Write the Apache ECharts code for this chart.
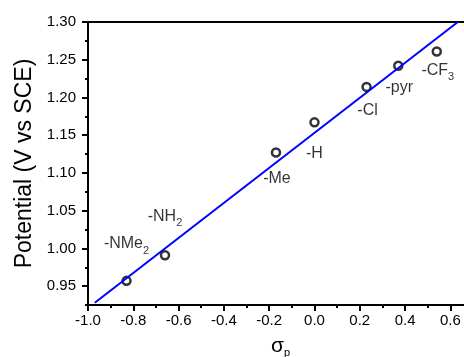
<!DOCTYPE html>
<html>
<head>
<meta charset="utf-8">
<script src="https://cdn.jsdelivr.net/npm/echarts@6/dist/echarts.min.js"></script>
<style>
  html, body { margin: 0; padding: 0; background: #ffffff; }
  #chart { width: 464px; height: 357px; }
</style>
</head>
<body>
<div id="chart"></div>
<script>
// Hammett substituent constants vs. oxidation potential
const substituents = ['-NMe', '-NH', '-Me', '-H', '-Cl', '-pyr', '-CF'];
const subscripts = ['2', '2', '', '', '', '', '3'];
const sigmaP = [-0.83, -0.66, -0.17, 0.0, 0.23, 0.37, 0.54];
const potential = [0.957, 0.991, 1.127, 1.167, 1.214, 1.242, 1.261];

// linear fit, read at its two visible ends
const fitX = [-0.97, 0.633];
const fitY = [0.928, 1.30];

const xMajor = [-1.0, -0.8, -0.6, -0.4, -0.2, 0.0, 0.2, 0.4, 0.6];
const xMinor = [-0.9, -0.7, -0.5, -0.3, -0.1, 0.1, 0.3, 0.5];
const yMajor = [0.95, 1.00, 1.05, 1.10, 1.15, 1.20, 1.25, 1.30];
const yMinor = [0.925, 0.975, 1.025, 1.075, 1.125, 1.175, 1.225, 1.275];

// label placement relative to each point (px)
const labelOffsets = [[0, -37], [0, -39], [1, 26], [0, 31], [1, 24], [1, 22], [1, 19]];

const FONT = '"Liberation Sans", Arial, sans-serif';
const FG = '#000000';

const chart = echarts.init(document.getElementById('chart'));

const pointData = sigmaP.map((x, i) => ({
  value: [x, potential[i]],
  label: { offset: labelOffsets[i] },
}));

const fitData = fitX.map((x, i) => [x, fitY[i]]);

const axisBase = {
  axisLine: { show: true, onZero: false, lineStyle: { color: FG, width: 2 } },
  splitLine: { show: false },
};

const option = {
  animation: false,
  backgroundColor: '#ffffff',
  grid: {
    left: 88,
    top: 22,
    right: -9,
    bottom: 52,
    outerBoundsMode: 'none',
    show: true,
    borderColor: FG,
    borderWidth: 2,
  },
  xAxis: [
    {
      ...axisBase,
      type: 'value',
      min: -1.0,
      max: 0.7,
      axisTick: { customValues: xMajor, length: 6, lineStyle: { color: FG, width: 2 } },
      axisLabel: {
        customValues: xMajor,
        color: FG,
        fontFamily: FONT,
        fontSize: 15,
        margin: 8,
        formatter: (v) => v.toFixed(1),
      },
      name: '{s|σ}{p|p}',
      nameLocation: 'middle',
      nameGap: 30,
      nameTextStyle: {
        rich: {
          s: { fontFamily: FONT, fontSize: 21, color: FG },
          p: { fontFamily: FONT, fontSize: 11, color: FG, padding: [12, 0, 0, 0] },
        },
      },
    },
    {
      type: 'value',
      min: -1.0,
      max: 0.7,
      position: 'bottom',
      axisLine: { show: false, onZero: false },
      splitLine: { show: false },
      axisTick: { show: true, customValues: xMinor, length: 3, lineStyle: { color: FG, width: 2 } },
      axisLabel: { show: false },
    },
  ],
  yAxis: [
    {
      ...axisBase,
      type: 'value',
      min: 0.925,
      max: 1.30,
      axisTick: { customValues: yMajor, length: 6, lineStyle: { color: FG, width: 2 } },
      axisLabel: {
        customValues: yMajor,
        color: FG,
        fontFamily: FONT,
        fontSize: 15,
        margin: 12,
        formatter: (v) => v.toFixed(2),
      },
      name: 'Potential (V vs SCE)',
      nameLocation: 'middle',
      nameGap: 52,
      nameTextStyle: { fontFamily: FONT, fontSize: 23, color: FG },
    },
    {
      type: 'value',
      min: 0.925,
      max: 1.30,
      position: 'left',
      axisLine: { show: false, onZero: false },
      splitLine: { show: false },
      axisTick: { show: true, customValues: yMinor, length: 3, lineStyle: { color: FG, width: 2 } },
      axisLabel: { show: false },
    },
  ],
  series: [
    {
      name: 'fit',
      type: 'line',
      data: fitData,
      symbol: 'none',
      lineStyle: { color: '#0000ff', width: 2 },
      silent: true,
    },
    {
      name: 'data',
      type: 'scatter',
      data: pointData,
      symbol: 'circle',
      symbolSize: 8,
      itemStyle: { color: 'rgba(0,0,0,0)', borderColor: FG, borderWidth: 2.5 },
      label: {
        show: true,
        position: 'inside',
        align: 'center',
        verticalAlign: 'middle',
        formatter: (p) => {
          const i = p.dataIndex;
          return '{m|' + substituents[i] + '}' + (subscripts[i] ? '{s|' + subscripts[i] + '}' : '');
        },
        rich: {
          m: { fontFamily: FONT, fontSize: 16, color: FG },
          s: { fontFamily: FONT, fontSize: 11, color: FG, padding: [14, 0, 0, 0] },
        },
      },
    },
  ],
};

chart.setOption(option);
</script>
</body>
</html>
